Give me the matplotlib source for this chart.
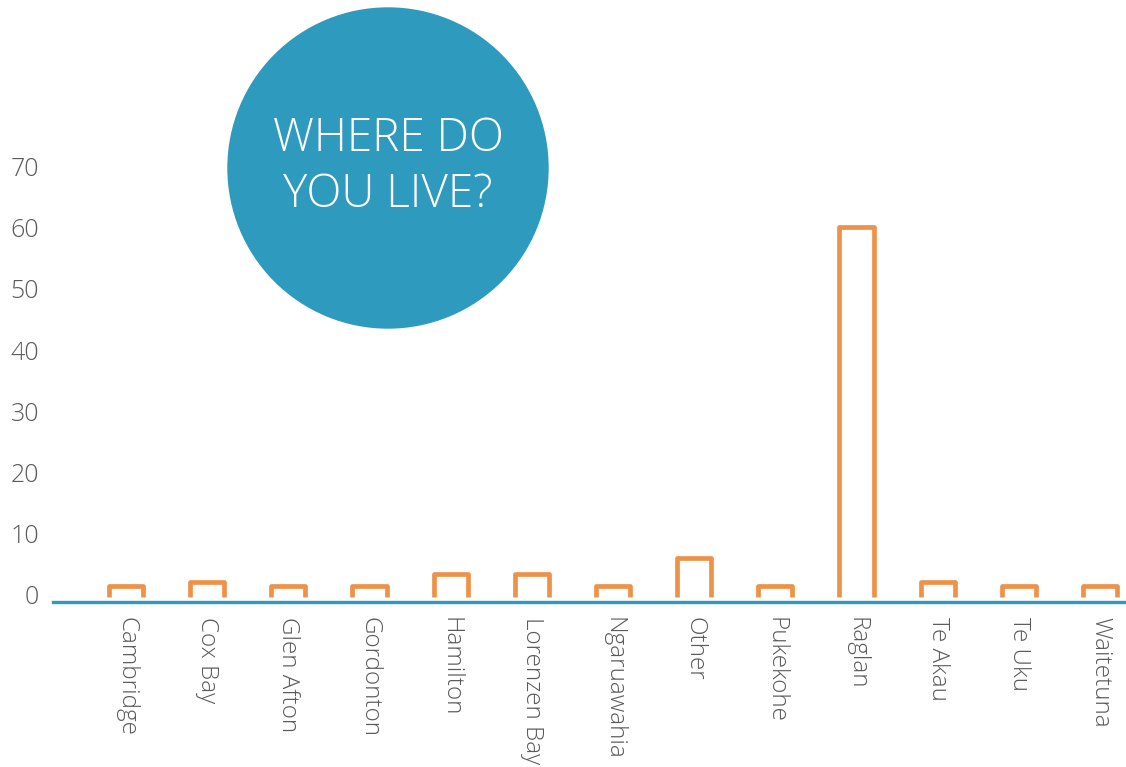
import numpy as np
import matplotlib
matplotlib.use("Agg")
import matplotlib.pyplot as plt
from matplotlib.patches import Circle

places = ["Cambridge", "Cox Bay", "Glen Afton", "Gordonton", "Hamilton",
          "Lorenzen Bay", "Ngaruawahia", "Other", "Pukekohe", "Raglan",
          "Te Akau", "Te Uku", "Waitetuna"]
counts = [1.8, 2.5, 1.8, 1.8, 3.9, 3.9, 1.8, 6.5, 1.8, 60.7, 2.5, 1.8, 1.8]
yticks = [0, 10, 20, 30, 40, 50, 60, 70]
title = "WHERE DO\nYOU LIVE?"

orange = "#EF9249"
blue = "#2E9ABE"
grey = "#5a5a5a"

plt.rcParams['font.family'] = ['Open Sans', 'DejaVu Sans']

fig = plt.figure(figsize=(11.26, 7.67), dpi=100)
ax = fig.add_axes([53 / 1126, (767 - 602) / 767, 1 - 53 / 1126, 602 / 767])

x = np.arange(len(places))
w = 0.42
for xi, h in zip(x, counts):
    ax.plot([xi - w / 2, xi - w / 2, xi + w / 2, xi + w / 2], [0, h, h, 0],
            color=orange, lw=3.4, solid_joinstyle='round', solid_capstyle='butt')

ax.set_xlim(-0.9, 12.32)
ax.set_ylim(-0.75, 97.8)

for s in ["top", "right", "left"]:
    ax.spines[s].set_visible(False)
ax.spines["bottom"].set_color(blue)
ax.spines["bottom"].set_linewidth(2.4)

ax.set_xticks(x)
ax.set_xticklabels(places, rotation=-90, fontsize=17.5, color=grey,
                   fontweight='light', va='top', ha='center')
ax.set_yticks(yticks)
ax.set_yticklabels([str(v) for v in yticks], fontsize=18, color=grey,
                   fontweight='light')
ax.tick_params(axis='x', length=0, pad=11)
ax.tick_params(axis='y', length=0, pad=10)
for lab in ax.get_yticklabels():
    lab.set_va('center')

circ = Circle((3.88, 7.67 - 1.68), 1.60, transform=fig.dpi_scale_trans,
              color=blue, zorder=5)
fig.add_artist(circ)
fig.text(3.88 / 11.26, 1 - 1.67 / 7.67, title, color="white", fontsize=33,
         fontweight='light', ha='center', va='center', linespacing=1.28,
         zorder=6)

fig.savefig("out.png", dpi=100, facecolor="white")
